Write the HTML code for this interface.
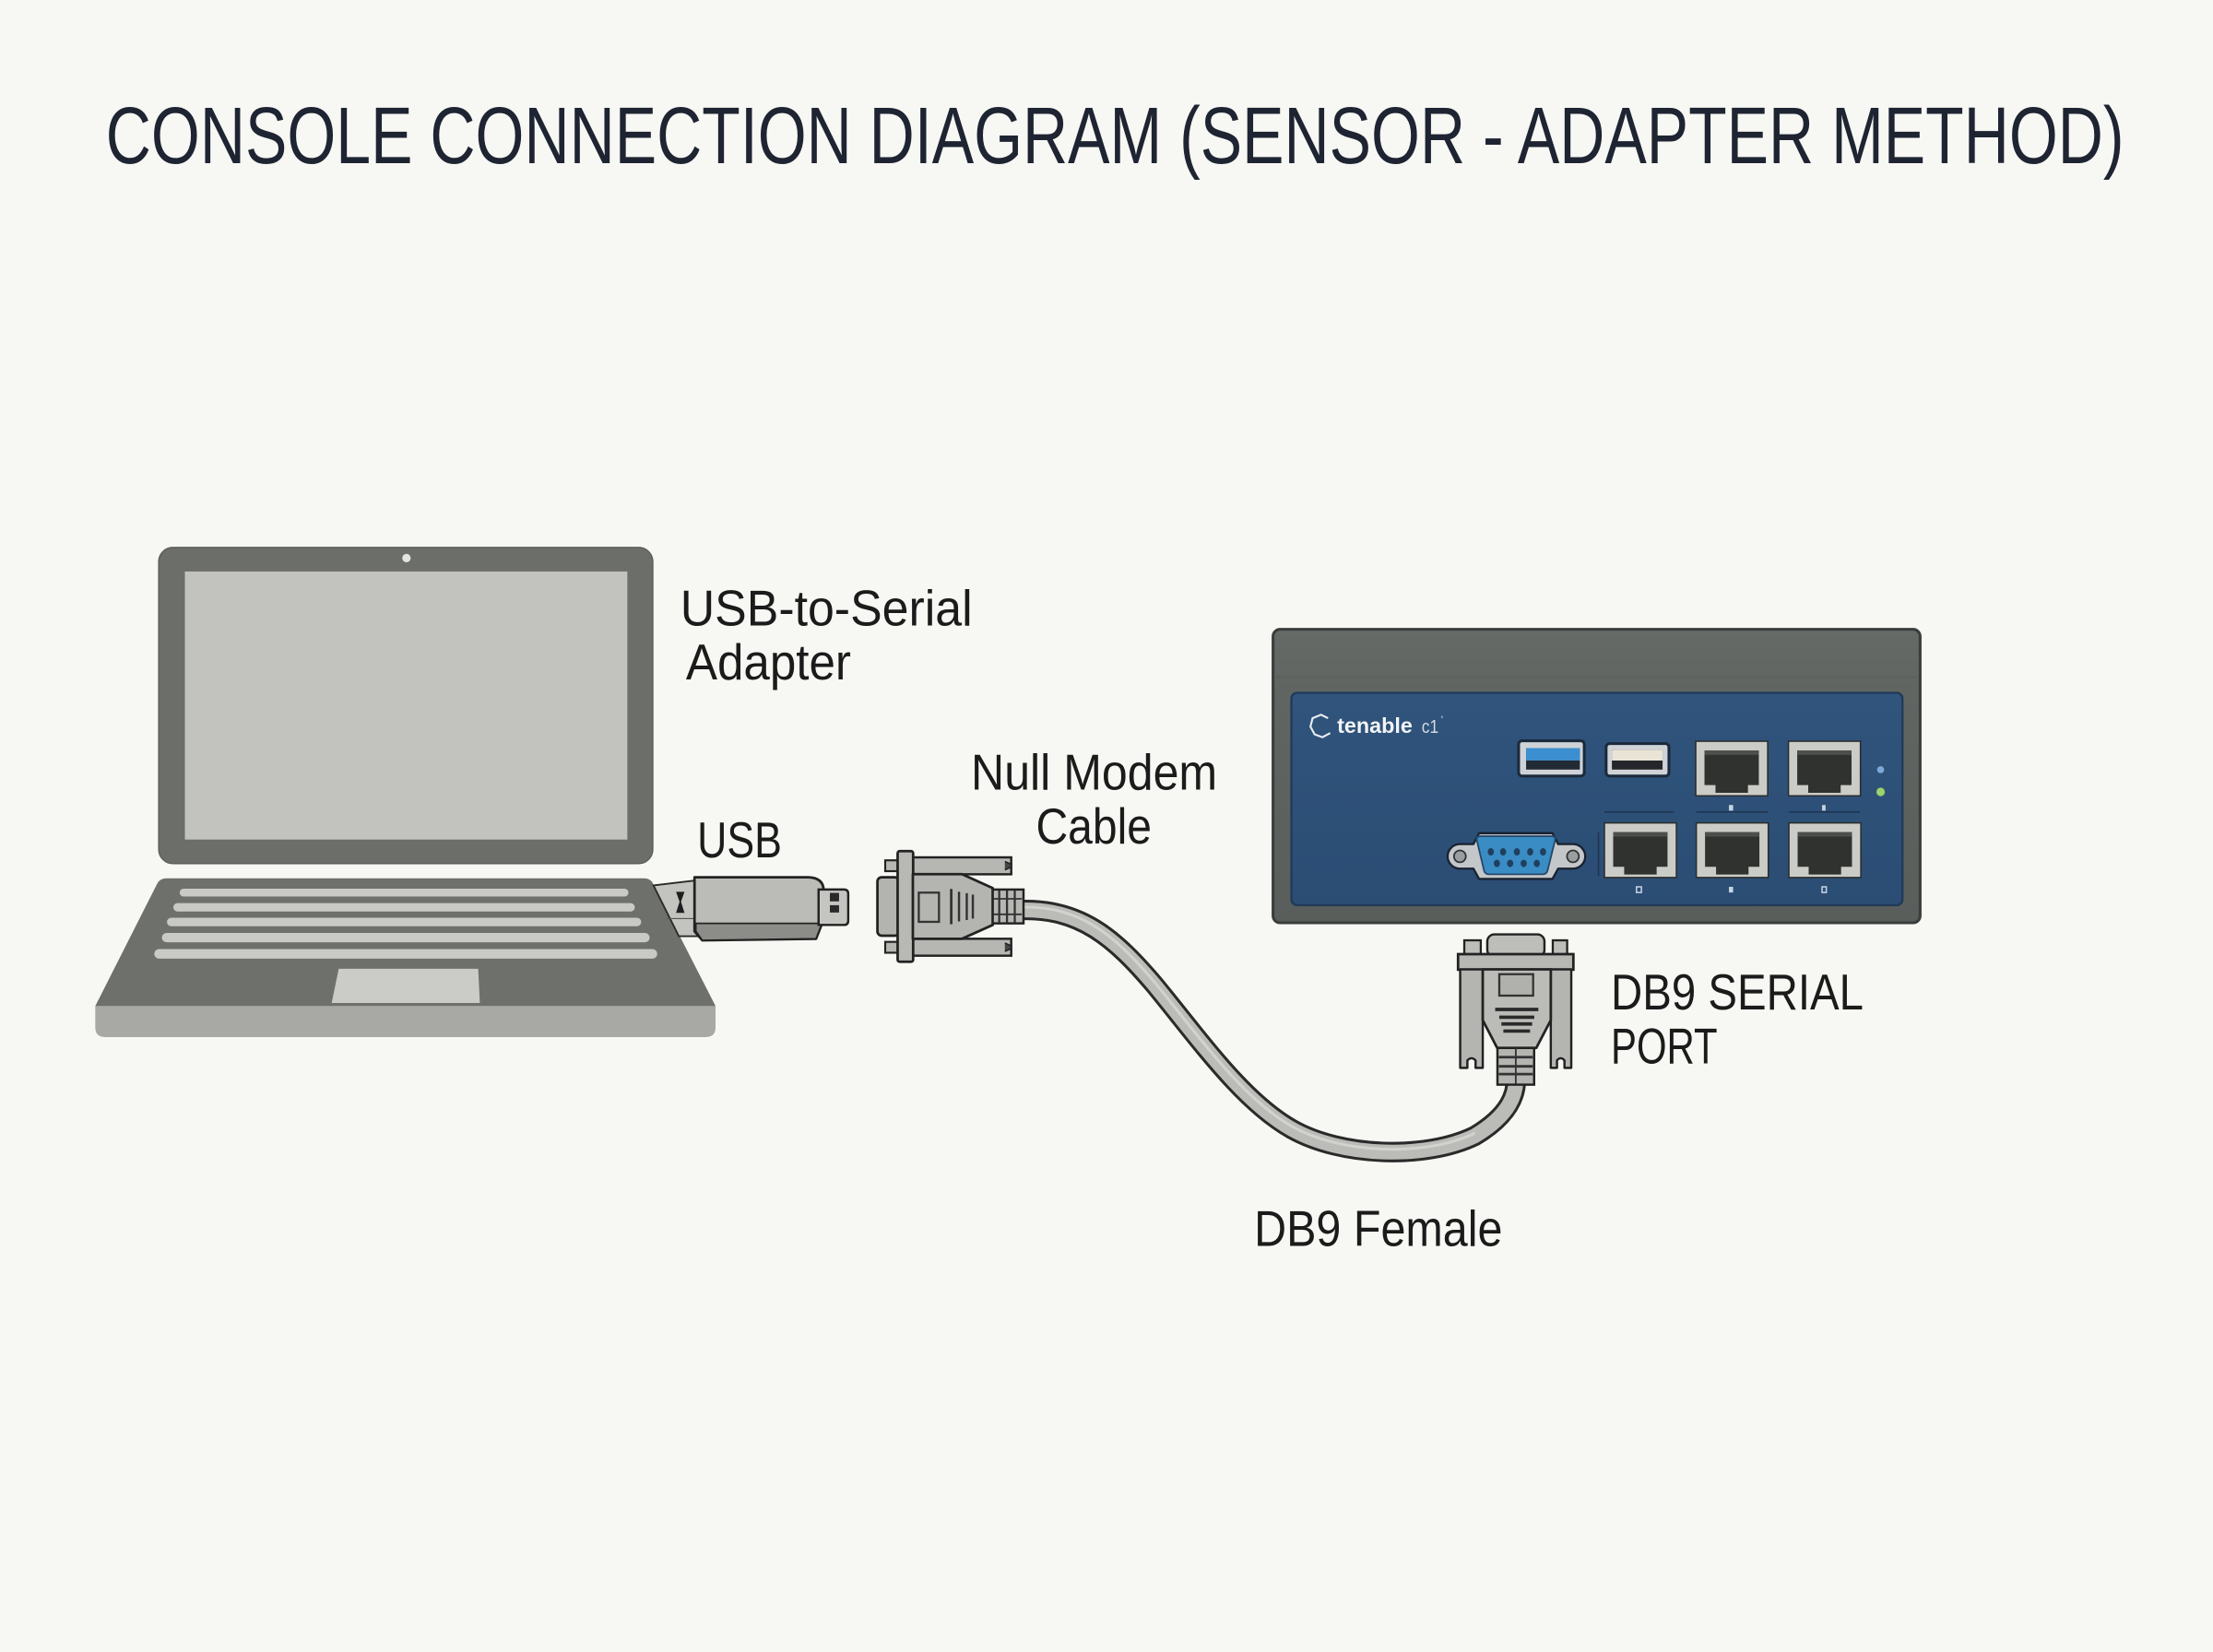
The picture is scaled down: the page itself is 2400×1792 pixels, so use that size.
<!DOCTYPE html>
<html><head><meta charset="utf-8">
<style>
html,body{margin:0;padding:0;background:#f7f7f3;}
svg{display:block;}
</style></head><body>
<svg width="2400" height="1792" viewBox="0 0 1568 1170.77" xmlns="http://www.w3.org/2000/svg">
<defs>
<linearGradient id="dev" x1="0" y1="0" x2="0" y2="1">
<stop offset="0" stop-color="#666a67"/><stop offset="0.2" stop-color="#616562"/><stop offset="1" stop-color="#5a5e5b"/>
</linearGradient>
<linearGradient id="blue" x1="0" y1="0" x2="0" y2="1">
<stop offset="0" stop-color="#30547c"/><stop offset="1" stop-color="#2b4d74"/>
</linearGradient>
<g id="rj">
<rect x="0" y="0" width="51" height="38.7" fill="#cbccc8" stroke="#2a2d2b" stroke-width="1"/>
<path d="M6.2 6.5 H44.7 V31.1 H37 V36.6 H14 V31.1 H6.2 Z" fill="#30322f"/>
<rect x="6.2" y="6.5" width="38.5" height="3.2" fill="#4d4f4c"/>
</g>
</defs>
<rect width="1568" height="1171" fill="#f7f7f3"/>

<!-- Title -->
<text x="75" y="115.5" font-family="'Liberation Sans Narrow','Liberation Sans',sans-serif" font-size="57" fill="#1e2432" textLength="1430" lengthAdjust="spacingAndGlyphs">CONSOLE CONNECTION DIAGRAM (SENSOR - ADAPTER METHOD)</text>

<!-- Laptop -->
<rect x="112.5" y="388" width="350" height="224" rx="10" fill="#6c6e6a" stroke="#5d5f5b" stroke-width="1"/>
<rect x="131" y="405" width="313.5" height="190" fill="#c2c3bf"/>
<circle cx="288" cy="395.5" r="3" fill="#e4e4e0"/>
<path d="M118 622.5 L456 622.5 Q461.5 622.5 463 627 L507 713 L67.5 713 L111 627 Q113 622.5 118 622.5 Z" fill="#6e706c"/>
<path d="M67.5 713 L507 713 L507 728 Q507 735 500 735 L74.5 735 Q67.5 735 67.5 728 Z" fill="#a8a9a5"/>
<rect x="127.3" y="629.8" width="318" height="5.6" rx="2.8" fill="#c9cac6"/>
<rect x="122.8" y="640" width="327" height="6" rx="3" fill="#c9cac6"/>
<rect x="118.3" y="650.4" width="336" height="6" rx="3" fill="#c9cac6"/>
<rect x="114.7" y="661.2" width="345.6" height="6.6" rx="3.3" fill="#c9cac6"/>
<rect x="109.3" y="672.6" width="356.4" height="6.8" rx="3.4" fill="#c9cac6"/>
<path d="M240 686.6 L338.8 686.6 L340 710.8 L235 710.8 Z" fill="#cbccc8"/>

<!-- USB adapter -->
<path d="M463 627.5 L497 623.5 L497 663.5 L481 663.5 Z" fill="#c3c4c0" stroke="#2a2a2a" stroke-width="1.2"/>
<line x1="473" y1="651" x2="497" y2="651" stroke="#555" stroke-width="0.8"/>
<path d="M479 632 L485 632 L482.5 639 L485 647 L479 647 L481.5 639 Z" fill="#1e1e1e"/>
<path d="M492.1 621.7 L572.7 621.7 Q583.6 622 583.6 631.5 L582.5 654.4 L578.2 665.3 L497.6 666.4 L492.1 660 Z" fill="#bbbcb8" stroke="#222" stroke-width="1.8" stroke-linejoin="round"/>
<path d="M493 654.4 L582.5 654.4 L578.2 665.3 L497.6 666.4 L493 660 Z" fill="#8c8d89" stroke="#222" stroke-width="1.2" stroke-linejoin="round"/>
<path d="M580 630.4 L598 630.4 Q601 630.4 601 633.4 L601 652.5 Q601 655.5 598 655.5 L580 655.5 Z" fill="#c5c6c2" stroke="#222" stroke-width="1.6"/>
<rect x="588" y="632.8" width="6.5" height="6" fill="#2a2a2a"/>
<rect x="588" y="641.5" width="6.5" height="5.2" fill="#2a2a2a"/>

<!-- Cable -->
<path d="M722 645 C765 643,790 665,818 698 C850 737,880 780,915 800 C950 820,1010 822,1045 805 C1070 790,1075 775,1074 762" fill="none" stroke="#2a2a2a" stroke-width="14.5" stroke-linecap="butt"/>
<path d="M722 645 C765 643,790 665,818 698 C850 737,880 780,915 800 C950 820,1010 822,1045 805 C1070 790,1075 775,1074 762" fill="none" stroke="#bbbcb8" stroke-width="10.5" stroke-linecap="butt"/>
<path d="M722 643 C765 641,790 663,818 696 C850 735,880 778,915 798 C950 818,1010 820,1045 803" fill="none" stroke="#d2d3cf" stroke-width="2"/>

<!-- Male DB9 (left) -->
<rect x="646.8" y="607.6" width="69.7" height="12" fill="#b6b7b3" stroke="#222" stroke-width="1.6"/>
<rect x="646.8" y="665.3" width="69.7" height="12" fill="#b6b7b3" stroke="#222" stroke-width="1.6"/>
<path d="M712 610.5 L716.5 612.5 L716.5 614.5 L712 616.5" fill="#444" stroke="#222" stroke-width="1"/>
<path d="M712 668.3 L716.5 670.3 L716.5 672.3 L712 674.3" fill="#444" stroke="#222" stroke-width="1"/>
<rect x="627.2" y="609.7" width="9" height="7.7" fill="#b6b7b3" stroke="#222" stroke-width="1.4"/>
<rect x="627.2" y="667.5" width="9" height="7.7" fill="#b6b7b3" stroke="#222" stroke-width="1.4"/>
<rect x="621.7" y="621.7" width="15.3" height="41.4" rx="3" fill="#b3b4b0" stroke="#222" stroke-width="1.8"/>
<rect x="636" y="603.2" width="11" height="78.4" rx="1.5" fill="#b8b9b5" stroke="#222" stroke-width="1.8"/>
<path d="M646.8 619.5 L681.6 619.5 L703.4 629.4 L703.4 655.5 L681.6 665.3 L646.8 665.3 Z" fill="#b4b5b1" stroke="#222" stroke-width="1.8" stroke-linejoin="round"/>
<rect x="651" y="632.6" width="14.3" height="20.7" fill="none" stroke="#333" stroke-width="1.5"/>
<line x1="674" y1="630" x2="674" y2="655" stroke="#333" stroke-width="1.8"/>
<line x1="679.5" y1="632" x2="679.5" y2="653" stroke="#333" stroke-width="1.6"/>
<line x1="685" y1="633" x2="685" y2="652" stroke="#333" stroke-width="1.6"/>
<line x1="689.3" y1="634" x2="689.3" y2="651" stroke="#333" stroke-width="1.6"/>
<rect x="703.4" y="630.4" width="21.8" height="24" fill="#b6b7b3" stroke="#222" stroke-width="1.6"/>
<line x1="708" y1="631" x2="708" y2="654" stroke="#333" stroke-width="1.5"/>
<line x1="713.5" y1="631" x2="713.5" y2="654" stroke="#333" stroke-width="1.5"/>
<line x1="719" y1="631" x2="719" y2="654" stroke="#333" stroke-width="1.5"/>
<line x1="704" y1="637" x2="724" y2="637" stroke="#333" stroke-width="1.2"/>
<line x1="704" y1="648" x2="724" y2="648" stroke="#333" stroke-width="1.2"/>

<!-- Device -->
<rect x="902" y="446" width="458.5" height="208" rx="5" fill="url(#dev)" stroke="#3a3d3b" stroke-width="2"/>
<line x1="904" y1="480" x2="1358" y2="480" stroke="#5c605d" stroke-width="1"/>
<rect x="915" y="491" width="433" height="150.5" rx="4" fill="url(#blue)" stroke="#203a58" stroke-width="1.5"/>

<!-- logo -->
<path d="M941 509 L936 506.5 L930 509 L928.5 515 L931.5 520.5 L937 522.5 L942.5 519.5" fill="none" stroke="#e8ecf2" stroke-width="1.4"/>
<text x="947.4" y="519.5" font-family="'Liberation Sans',sans-serif" font-size="15" font-weight="bold" fill="#f2f4f7" textLength="53.4" lengthAdjust="spacingAndGlyphs">tenable</text>
<text x="1007.3" y="519.5" font-family="'Liberation Sans',sans-serif" font-size="13" fill="#d4dae3" textLength="12" lengthAdjust="spacingAndGlyphs">c1</text>
<text x="1021" y="513" font-family="'Liberation Sans',sans-serif" font-size="8" fill="#d4dae3">'</text>

<!-- USB ports -->
<rect x="1076" y="525" width="46.5" height="25" rx="2.5" fill="#cfd3d7" stroke="#1a2a3c" stroke-width="2"/>
<rect x="1081.3" y="530.2" width="38.1" height="15.2" fill="#222a33"/>
<rect x="1081.3" y="530.2" width="38.1" height="8.8" fill="#3b8fd0"/>
<rect x="1138" y="527" width="44.5" height="23" rx="2.5" fill="#cfd3d7" stroke="#1a2a3c" stroke-width="2"/>
<rect x="1142.1" y="531.3" width="35.9" height="14.1" fill="#24262a"/>
<rect x="1142.1" y="531.3" width="35.9" height="7.7" fill="#e9e4d6"/>

<!-- RJ45 ports -->
<use href="#rj" x="1201.5" y="525.3"/>
<use href="#rj" x="1267.2" y="525.3"/>
<use href="#rj" x="1136.8" y="583.2"/>
<use href="#rj" x="1201.9" y="583.2"/>
<use href="#rj" x="1267.5" y="583.2"/>
<line x1="1136.8" y1="575.4" x2="1186" y2="575.4" stroke="#1d3350" stroke-width="1"/>
<line x1="1201.9" y1="575.4" x2="1252.5" y2="575.4" stroke="#1d3350" stroke-width="1"/>
<line x1="1267.5" y1="575.4" x2="1318" y2="575.4" stroke="#1d3350" stroke-width="1"/>
<line x1="1132.6" y1="590" x2="1132.6" y2="621" stroke="#1d3350" stroke-width="1"/>
<rect x="1225" y="570.5" width="3" height="4" fill="#c5d2e2"/>
<rect x="1291" y="570.5" width="2.5" height="4" fill="#c5d2e2"/>
<rect x="1159.5" y="628.5" width="3.5" height="4" fill="none" stroke="#c5d2e2" stroke-width="1"/>
<rect x="1225" y="628.5" width="3" height="4" fill="#c5d2e2"/>
<rect x="1291" y="628.5" width="3" height="4" fill="none" stroke="#c5d2e2" stroke-width="1"/>

<!-- LEDs -->
<circle cx="1332.5" cy="545.5" r="2.5" fill="#7fa8d8"/>
<circle cx="1332.5" cy="561.2" r="3" fill="#9ed26a"/>

<!-- Device DB9 port -->
<path d="M1034.4 598.2 L1044 598.2 L1048 590.5 L1100 590.5 L1104 598.2 L1114.5 598.2 A8.7 8.7 0 0 1 1114.5 615.6 L1104 615.6 L1100 622.9 L1048 622.9 L1044 615.6 L1034.4 615.6 A8.7 8.7 0 0 1 1034.4 598.2 Z" fill="#c4c7ca" stroke="#18222f" stroke-width="1.5"/>
<circle cx="1034.4" cy="606.9" r="4.2" fill="#9b9ea0" stroke="#333" stroke-width="1.2"/>
<circle cx="1114.5" cy="606.9" r="4.2" fill="#9b9ea0" stroke="#333" stroke-width="1.2"/>
<path d="M1049 592.6 L1099.3 592.6 Q1102.5 592.6 1101.8 595.5 L1096.5 617 Q1095.8 619.6 1093 619.6 L1055 619.6 Q1052.2 619.6 1051.5 617 L1046.4 595.5 Q1045.8 592.6 1049 592.6 Z" fill="#3a8cc4" stroke="#26496b" stroke-width="1.2"/>
<g fill="#1f3f5e">
<ellipse cx="1056.3" cy="603.7" rx="2.2" ry="2.6"/>
<ellipse cx="1065" cy="603.7" rx="2.2" ry="2.6"/>
<ellipse cx="1074.8" cy="603.7" rx="2.2" ry="2.6"/>
<ellipse cx="1084.2" cy="603.7" rx="2.2" ry="2.6"/>
<ellipse cx="1093.3" cy="603.7" rx="2.2" ry="2.6"/>
<ellipse cx="1060.6" cy="611.9" rx="2.2" ry="2.6"/>
<ellipse cx="1070" cy="611.9" rx="2.2" ry="2.6"/>
<ellipse cx="1079.6" cy="611.9" rx="2.2" ry="2.6"/>
<ellipse cx="1088.9" cy="611.9" rx="2.2" ry="2.6"/>
</g>

<!-- Female DB9 (below device) -->
<rect x="1053.8" y="662.2" width="40.5" height="16" rx="5" fill="#bdbeba" stroke="#222" stroke-width="1.6"/>
<rect x="1037.5" y="666.4" width="11.7" height="10" fill="#bdbeba" stroke="#222" stroke-width="1.5"/>
<rect x="1100.2" y="666.4" width="10.2" height="10" fill="#bdbeba" stroke="#222" stroke-width="1.5"/>
<rect x="1033.1" y="676.2" width="81.7" height="11" fill="#b7b8b4" stroke="#222" stroke-width="1.8"/>
<path d="M1034.6 687 H1050.6 V756.8 H1045.5 V751.5 Q1042.6 748.5 1039.7 751.5 V756.8 H1034.6 Z" fill="#b4b5b1" stroke="#222" stroke-width="1.6" stroke-linejoin="round"/>
<path d="M1098.8 687 H1113.3 V756.8 H1108.5 V751.5 Q1105.8 748.5 1103.2 751.5 V756.8 H1098.8 Z" fill="#b4b5b1" stroke="#222" stroke-width="1.6" stroke-linejoin="round"/>
<path d="M1050.6 687 L1098.8 687 L1098.8 723 L1088.5 742.7 L1060.8 742.7 L1050.6 723 Z" fill="#bbbcb8" stroke="#222" stroke-width="1.8" stroke-linejoin="round"/>
<rect x="1062.3" y="690.4" width="24" height="15.2" fill="#b0b1ad" stroke="#333" stroke-width="1.5"/>
<line x1="1059.4" y1="715.4" x2="1090" y2="715.4" stroke="#2a2a2a" stroke-width="2.4"/>
<line x1="1062.3" y1="720.9" x2="1087.1" y2="720.9" stroke="#2a2a2a" stroke-width="2.4"/>
<line x1="1063.8" y1="725.7" x2="1085.6" y2="725.7" stroke="#2a2a2a" stroke-width="2.4"/>
<line x1="1065.2" y1="730.7" x2="1084.1" y2="730.7" stroke="#2a2a2a" stroke-width="2.4"/>
<rect x="1061" y="742.7" width="26" height="26" fill="#b4b5b1" stroke="#222" stroke-width="1.6"/>
<line x1="1062" y1="749.2" x2="1086" y2="749.2" stroke="#333" stroke-width="1.8"/>
<line x1="1062" y1="755.7" x2="1086" y2="755.7" stroke="#333" stroke-width="1.8"/>
<line x1="1062" y1="761.2" x2="1086" y2="761.2" stroke="#333" stroke-width="1.8"/>
<line x1="1074" y1="743" x2="1074" y2="768" stroke="#333" stroke-width="1.2"/>

<!-- Labels -->
<g font-family="'Liberation Sans',sans-serif" font-size="36" fill="#1b1b1b">
<text x="482" y="443.2" textLength="207" lengthAdjust="spacingAndGlyphs">USB-to-Serial</text>
<text x="486" y="481.5" textLength="117" lengthAdjust="spacingAndGlyphs">Adapter</text>
<text x="494" y="607.6" textLength="60" lengthAdjust="spacingAndGlyphs">USB</text>
<text x="688" y="559.7" textLength="174.5" lengthAdjust="spacingAndGlyphs">Null Modem</text>
<text x="734" y="597.8" textLength="82" lengthAdjust="spacingAndGlyphs">Cable</text>
<text x="1141.4" y="715.4" textLength="179" lengthAdjust="spacingAndGlyphs">DB9 SERIAL</text>
<text x="1141.4" y="753.5" textLength="75.5" lengthAdjust="spacingAndGlyphs">PORT</text>
<text x="888.6" y="883.1" textLength="176" lengthAdjust="spacingAndGlyphs">DB9 Female</text>
</g>
</svg>
</body></html>
